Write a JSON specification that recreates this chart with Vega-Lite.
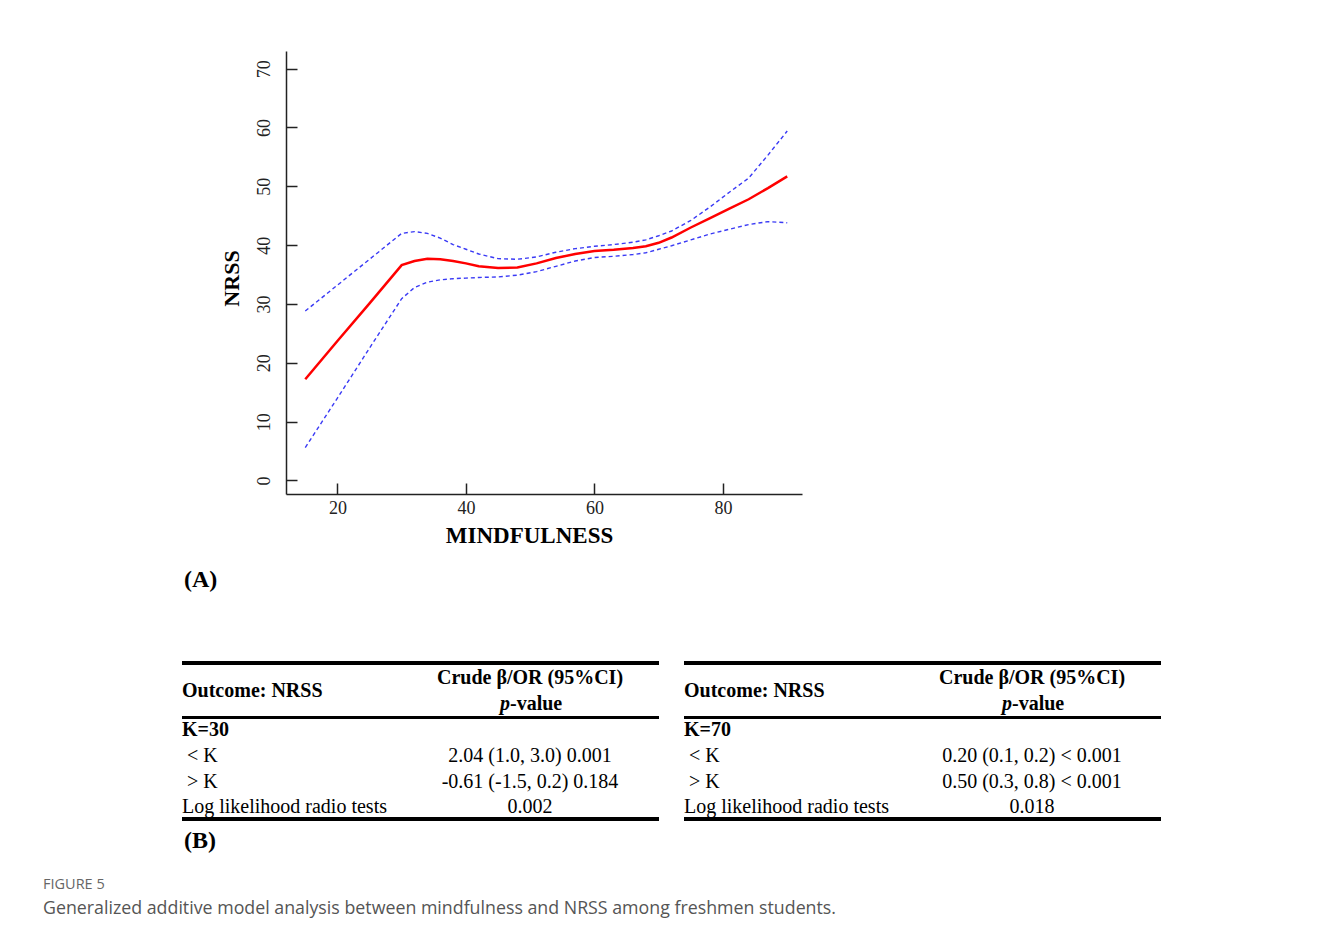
{
  "$schema": "https://vega.github.io/schema/vega-lite/v6.json",
  "padding": {"left": 43, "top": 51, "right": 10, "bottom": 10},
  "background": "white",
  "config": {"view": {"stroke": null}},
  "title": {
    "text": "FIGURE 5",
    "subtitle": "Generalized additive model analysis between mindfulness and NRSS among freshmen students.",
    "orient": "bottom",
    "anchor": "start",
    "frame": "group",
    "dx": -139,
    "offset": 25,
    "font": "Open Sans",
    "fontSize": 14.5,
    "fontWeight": "normal",
    "color": "#666666",
    "subtitleFont": "Open Sans",
    "subtitleFontSize": 17.8,
    "subtitleColor": "#555555",
    "subtitlePadding": 8
  },
  "datasets": {
    "gam": [
      {"mindfulness": 15, "fit": 17.2, "lower": 5.6, "upper": 28.8},
      {"mindfulness": 20, "fit": 23.7, "lower": 14.0, "upper": 33.2},
      {"mindfulness": 25, "fit": 30.1, "lower": 22.5, "upper": 37.6},
      {"mindfulness": 30, "fit": 36.6, "lower": 30.9, "upper": 42.0},
      {"mindfulness": 32, "fit": 37.3, "lower": 32.8, "upper": 42.3},
      {"mindfulness": 34, "fit": 37.7, "lower": 33.7, "upper": 42.0},
      {"mindfulness": 36, "fit": 37.6, "lower": 34.1, "upper": 41.2},
      {"mindfulness": 38, "fit": 37.3, "lower": 34.3, "upper": 40.1},
      {"mindfulness": 40, "fit": 36.9, "lower": 34.4, "upper": 39.3},
      {"mindfulness": 42, "fit": 36.4, "lower": 34.5, "upper": 38.5},
      {"mindfulness": 45, "fit": 36.1, "lower": 34.6, "upper": 37.7},
      {"mindfulness": 48, "fit": 36.2, "lower": 34.9, "upper": 37.6},
      {"mindfulness": 51, "fit": 36.9, "lower": 35.5, "upper": 38.0},
      {"mindfulness": 54, "fit": 37.8, "lower": 36.4, "upper": 38.8},
      {"mindfulness": 57, "fit": 38.5, "lower": 37.3, "upper": 39.4},
      {"mindfulness": 60, "fit": 39.0, "lower": 37.9, "upper": 39.8},
      {"mindfulness": 63, "fit": 39.2, "lower": 38.1, "upper": 40.1},
      {"mindfulness": 66, "fit": 39.5, "lower": 38.4, "upper": 40.5},
      {"mindfulness": 68, "fit": 39.8, "lower": 38.7, "upper": 40.9},
      {"mindfulness": 70, "fit": 40.4, "lower": 39.3, "upper": 41.6},
      {"mindfulness": 72, "fit": 41.3, "lower": 39.9, "upper": 42.4},
      {"mindfulness": 75, "fit": 43.0, "lower": 40.9, "upper": 44.2},
      {"mindfulness": 78, "fit": 44.6, "lower": 41.9, "upper": 46.5},
      {"mindfulness": 81, "fit": 46.2, "lower": 42.7, "upper": 49.0},
      {"mindfulness": 84, "fit": 47.8, "lower": 43.5, "upper": 51.4},
      {"mindfulness": 87, "fit": 49.7, "lower": 44.0, "upper": 55.3},
      {"mindfulness": 90, "fit": 51.7, "lower": 43.8, "upper": 59.4}
    ],
    "tables": [
      {"model": "K=30", "kind": "header", "col": "label", "line": 0.5, "text": "Outcome: NRSS"},
      {"model": "K=30", "kind": "header", "col": "value", "line": 0, "text": "Crude β/OR (95%CI)"},
      {"model": "K=30", "kind": "group", "col": "label", "line": 2, "text": "K=30"},
      {"model": "K=30", "kind": "sub", "col": "label", "line": 3, "text": "< K"},
      {"model": "K=30", "kind": "sub", "col": "label", "line": 4, "text": "> K"},
      {"model": "K=30", "kind": "test", "col": "label", "line": 5, "text": "Log likelihood radio tests"},
      {"model": "K=30", "kind": "estimate", "col": "value", "line": 3, "text": "2.04 (1.0, 3.0) 0.001"},
      {"model": "K=30", "kind": "estimate", "col": "value", "line": 4, "text": "-0.61 (-1.5, 0.2) 0.184"},
      {"model": "K=30", "kind": "estimate", "col": "value", "line": 5, "text": "0.002"},
      {"model": "K=70", "kind": "header", "col": "label", "line": 0.5, "text": "Outcome: NRSS"},
      {"model": "K=70", "kind": "header", "col": "value", "line": 0, "text": "Crude β/OR (95%CI)"},
      {"model": "K=70", "kind": "group", "col": "label", "line": 2, "text": "K=70"},
      {"model": "K=70", "kind": "sub", "col": "label", "line": 3, "text": "< K"},
      {"model": "K=70", "kind": "sub", "col": "label", "line": 4, "text": "> K"},
      {"model": "K=70", "kind": "test", "col": "label", "line": 5, "text": "Log likelihood radio tests"},
      {"model": "K=70", "kind": "estimate", "col": "value", "line": 3, "text": "0.20 (0.1, 0.2)  < 0.001"},
      {"model": "K=70", "kind": "estimate", "col": "value", "line": 4, "text": "0.50 (0.3, 0.8)  < 0.001"},
      {"model": "K=70", "kind": "estimate", "col": "value", "line": 5, "text": "0.018"}
    ]
  },
  "columns": 1,
  "align": "none",
  "spacing": 69,
  "concat": [
    {
      "spacing": 1,
      "hconcat": [
        {
          "width": 36,
          "height": 443,
          "data": {"values": []},
          "mark": "text",
          "title": {
            "text": "(A)",
            "orient": "bottom",
            "anchor": "start",
            "frame": "group",
            "dx": 2,
            "offset": 74,
            "font": "Liberation Serif",
            "fontSize": 24,
            "fontWeight": "bold",
            "color": "black"
          }
        },
        {
          "width": 516,
          "height": 443,
          "data": {"name": "gam"},
          "encoding": {
            "x": {
              "field": "mindfulness",
              "type": "quantitative",
              "scale": {"domain": [12, 92.3], "nice": false, "zero": false},
              "axis": {
                "title": "MINDFULNESS",
                "values": [20, 40, 60, 80],
                "grid": false,
                "domainColor": "#222",
                "domainWidth": 1.5,
                "tickColor": "#222",
                "tickWidth": 1.5,
                "tickSize": -11,
                "labelPadding": 16,
                "labelFont": "Liberation Serif",
                "labelFontSize": 18,
                "labelColor": "#222",
                "titleFont": "Liberation Serif",
                "titleFontSize": 23,
                "titleFontWeight": "bold",
                "titleColor": "black",
                "titlePadding": 7,
                "titleX": 243
              }
            }
          },
          "layer": [
            {
              "mark": {"type": "line", "color": "#3a3af5", "strokeWidth": 1.4, "strokeDash": [4, 3]},
              "encoding": {
                "y": {
                  "field": "upper",
                  "type": "quantitative",
                  "scale": {"domain": [-2.3, 73], "nice": false, "zero": false},
                  "axis": {
                    "title": "NRSS",
                    "values": [0, 10, 20, 30, 40, 50, 60, 70],
                    "grid": false,
                    "domainColor": "#222",
                    "domainWidth": 1.5,
                    "tickColor": "#222",
                    "tickWidth": 1.5,
                    "tickSize": -11,
                    "labelAngle": -90,
                    "labelAlign": "center",
                    "labelBaseline": "bottom",
                    "labelPadding": 24,
                    "labelFont": "Liberation Serif",
                    "labelFontSize": 18,
                    "labelColor": "#222",
                    "titleFont": "Liberation Serif",
                    "titleFontSize": 22,
                    "titleFontWeight": "bold",
                    "titleColor": "black",
                    "titlePadding": 12,
                    "titleY": 227
                  }
                }
              }
            },
            {
              "mark": {"type": "line", "color": "#3a3af5", "strokeWidth": 1.4, "strokeDash": [4, 3]},
              "encoding": {"y": {"field": "lower", "type": "quantitative"}}
            },
            {
              "mark": {"type": "line", "color": "#ff0000", "strokeWidth": 2.5},
              "encoding": {"y": {"field": "fit", "type": "quantitative"}}
            }
          ]
        }
      ]
    },
    {
      "data": {"name": "tables"},
      "title": {
        "text": "(B)",
        "orient": "bottom",
        "anchor": "start",
        "frame": "group",
        "dx": 2,
        "offset": 8,
        "font": "Liberation Serif",
        "fontSize": 24,
        "fontWeight": "bold",
        "color": "black"
      },
      "facet": {
        "column": {"field": "model", "type": "nominal", "header": null, "sort": ["K=30", "K=70"]}
      },
      "spacing": 21,
      "spec": {
        "width": 477,
        "height": 156,
        "encoding": {
          "y": {
            "field": "line",
            "type": "quantitative",
            "scale": {"domain": [-0.6, 5.45], "nice": false, "zero": false, "reverse": true},
            "axis": null
          },
          "x": {
            "field": "col",
            "type": "nominal",
            "scale": {"type": "point", "domain": ["label", "value"], "range": [0, 348], "padding": 0},
            "axis": null
          },
          "text": {"field": "text"}
        },
        "layer": [
          {
            "mark": {"type": "rule", "color": "black", "strokeWidth": 3},
            "encoding": {"y": {"datum": -0.6}, "x": null, "text": null}
          },
          {
            "mark": {"type": "rule", "color": "black", "strokeWidth": 2.5},
            "encoding": {"y": {"datum": 1.5}, "x": null, "text": null}
          },
          {
            "mark": {"type": "rule", "color": "black", "strokeWidth": 3},
            "encoding": {"y": {"datum": 5.45}, "x": null, "text": null}
          },
          {
            "transform": [{"filter": "(datum.kind === 'header' || datum.kind === 'group') && datum.col === 'label'"}],
            "mark": {"type": "text", "font": "Liberation Serif", "fontSize": 20, "fontWeight": "bold", "color": "black", "baseline": "middle", "align": "left"}
          },
          {
            "transform": [{"filter": "datum.kind === 'header' && datum.col === 'value'"}],
            "mark": {"type": "text", "font": "Liberation Serif", "fontSize": 20, "fontWeight": "bold", "color": "black", "baseline": "middle", "align": "center"}
          },
          {
            "transform": [{"filter": "datum.kind === 'header' && datum.col === 'value'"}],
            "mark": {"type": "text", "font": "Liberation Serif", "fontSize": 20, "fontWeight": "bold", "fontStyle": "italic", "color": "black", "baseline": "middle", "align": "right", "dx": -20, "dy": 26},
            "encoding": {"text": {"value": "p"}}
          },
          {
            "transform": [{"filter": "datum.kind === 'header' && datum.col === 'value'"}],
            "mark": {"type": "text", "font": "Liberation Serif", "fontSize": 20, "fontWeight": "bold", "color": "black", "baseline": "middle", "align": "left", "dx": -20, "dy": 26},
            "encoding": {"text": {"value": "-value"}}
          },
          {
            "transform": [{"filter": "datum.kind === 'sub'"}],
            "mark": {"type": "text", "font": "Liberation Serif", "fontSize": 20, "color": "black", "baseline": "middle", "align": "left", "dx": 5}
          },
          {
            "transform": [{"filter": "datum.kind === 'test'"}],
            "mark": {"type": "text", "font": "Liberation Serif", "fontSize": 20, "color": "black", "baseline": "middle", "align": "left"}
          },
          {
            "transform": [{"filter": "datum.kind === 'estimate'"}],
            "mark": {"type": "text", "font": "Liberation Serif", "fontSize": 20, "color": "black", "baseline": "middle", "align": "center"}
          }
        ]
      }
    }
  ]
}
